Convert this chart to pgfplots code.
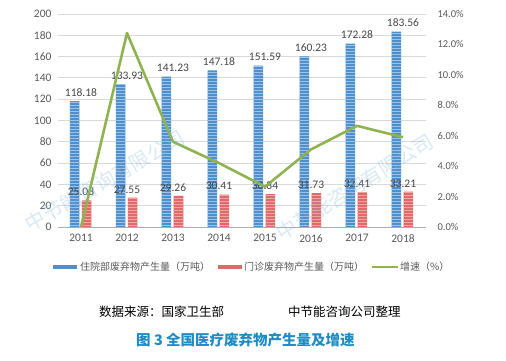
\documentclass[border=0pt]{standalone}
\usepackage{pgfplots}
\pgfplotsset{compat=1.18}
\usepackage{fontspec}
\setmainfont{Carlito}
\newfontfamily\cjk{Noto Sans CJK SC}
\usetikzlibrary{patterns}
\definecolor{barblue}{HTML}{4F8FCC}
\definecolor{stripeblue}{HTML}{9CC3EA}
\definecolor{barred}{HTML}{E06A6A}
\definecolor{stripered}{HTML}{F2A5A5}
\definecolor{lgreen}{HTML}{8FB44F}
\definecolor{tgray}{HTML}{595959}
\definecolor{gridc}{HTML}{D9D9D9}
\definecolor{titleblue}{HTML}{1E8BC3}
\definecolor{wm}{HTML}{7FB5E0}
\begin{document}
\begin{tikzpicture}[x=1pt,y=1pt]
\useasboundingbox (0,0) rectangle (506,361);
\begin{axis}[
  at={(58pt,134pt)}, anchor=south west,
  scale only axis, width=368pt, height=213pt,
  xmin=-0.5, xmax=7.5, ymin=0, ymax=200,
  xtick={0,...,7}, xticklabels={2011,2012,2013,2014,2015,2016,2017,2018},
  ytick={0,20,...,200},
  ymajorgrids, grid style={gridc, line width=0.8pt},
  axis line style={draw=none},
  axis x line*=bottom, axis y line*=left,
  major tick length=0pt,
  tick label style={font=\fontsize{11.5}{13}\selectfont, text=tgray},
  /pgf/number format/assume math mode=true,
  xticklabel style={yshift=-4pt},
  yticklabel style={xshift=-3pt},
  bar width=9.5pt,
  nodes near coords,
  every node near coord/.append style={font=\fontsize{11.5}{13}\selectfont, text=black!72, yshift=1pt},
  nodes near coords style={/pgf/number format/.cd, fixed, fixed zerofill, precision=2},
  clip=false,
]
\draw[gridc!80!black, line width=0.8pt] (axis cs:-0.5,0) -- (axis cs:7.5,0);
\addplot[ybar, bar shift=-6.5pt, draw=none, fill=barblue,
  postaction={pattern=horizontal lines, pattern color=stripeblue}]
  coordinates {(0,118.18) (1,133.93) (2,141.23) (3,147.18) (4,151.59) (5,160.23) (6,172.28) (7,183.56)};
\addplot[ybar, bar shift=5.5pt, draw=none, fill=barred,
  postaction={pattern=horizontal lines, pattern color=stripered}]
  coordinates {(0,25.08) (1,27.55) (2,29.26) (3,30.41) (4,30.84) (5,31.73) (6,32.41) (7,33.21)};
\end{axis}
\begin{axis}[
  at={(58pt,134pt)}, anchor=south west,
  scale only axis, width=368pt, height=213pt,
  xmin=-0.5, xmax=7.5, ymin=0, ymax=14,
  axis x line=none, axis y line*=right,
  axis line style={draw=none},
  major tick length=0pt,
  ytick={0,2,...,14},
  yticklabels={0.0\%,2.0\%,4.0\%,6.0\%,8.0\%,10.0\%,12.0\%,14.0\%},
  tick label style={font=\fontsize{10.5}{12}\selectfont, text=tgray},
  yticklabel style={xshift=8pt},
  clip=false,
]
\addplot[lgreen, line width=2.6pt, line join=round, mark=none]
  coordinates {(0,0) (1,12.75) (2,5.6) (3,4.2) (4,2.65) (5,5.1) (6,6.65) (7,5.9)};
\end{axis}
% legend
\fill[barblue] (53,92) rectangle (77,96);
\node[anchor=west, inner sep=0pt, text=tgray, font=\cjk\fontsize{10}{12}\selectfont] at (80,94) {住院部废弃物产生量（万吨）};
\fill[barred] (218,92) rectangle (242,96);
\node[anchor=west, inner sep=0pt, text=tgray, font=\cjk\fontsize{10}{12}\selectfont] at (244,94) {门诊废弃物产生量（万吨）};
\draw[lgreen, line width=2.2pt] (372,94) -- (398,94);
\node[anchor=west, inner sep=0pt, text=tgray, font=\cjk\fontsize{10}{12}\selectfont] at (400,94) {增速（\%）};
% source and title
\node[anchor=west, inner sep=0pt, font=\cjk\fontsize{12.5}{14}\selectfont] at (99,49) {数据来源：国家卫生部};
\node[anchor=west, inner sep=0pt, font=\cjk\fontsize{12.5}{14}\selectfont] at (288,49) {中节能咨询公司整理};
\node[anchor=west, inner sep=0pt, text=titleblue, font=\cjk\bfseries\fontsize{14.5}{16}\selectfont] at (136,21) {图 3 全国医疗废弃物产生量及增速};
% watermarks
\node[rotate=30, text=wm, opacity=0.3, font=\cjk\fontsize{20}{22}\selectfont] at (105,180) {中节能咨询有限公司};
\node[rotate=32, text=wm, opacity=0.3, font=\cjk\fontsize{20}{22}\selectfont] at (355,174) {中节能咨询有限公司};
\end{tikzpicture}
\end{document}
